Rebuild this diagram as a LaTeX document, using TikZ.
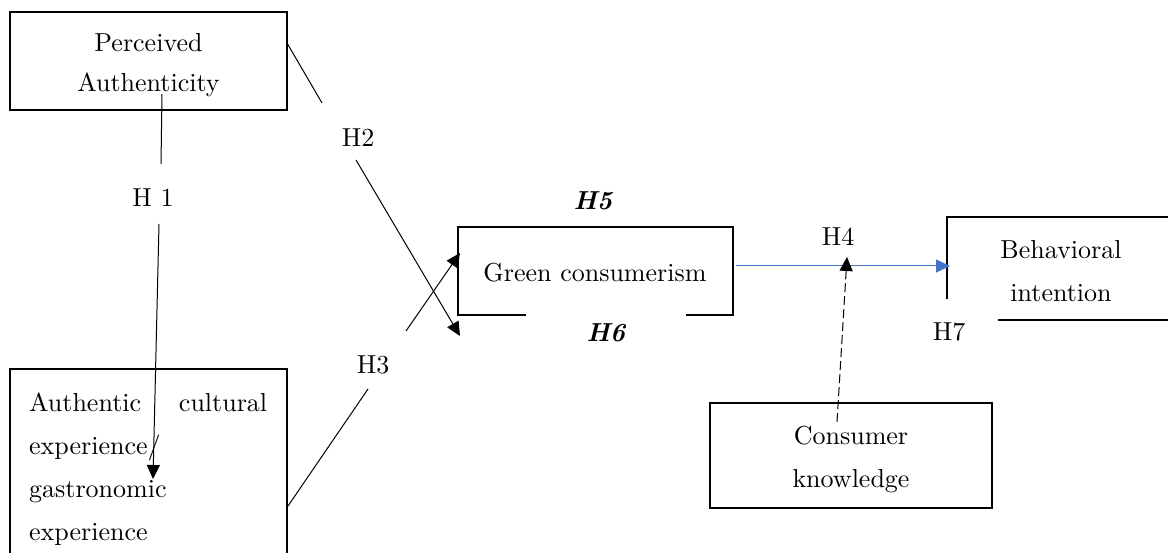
\documentclass[tikz,border=0pt]{standalone}
\usepackage{fontspec}
\setmainfont{lmroman10-regular.otf}[BoldItalicFont=lmroman10-bolditalic.otf, BoldFont=lmroman10-bold.otf, ItalicFont=lmroman10-italic.otf]
\usetikzlibrary{arrows.meta}
\definecolor{arrowblue}{HTML}{4472C4}
\begin{document}
\begin{tikzpicture}[x=1pt,y=-1pt,
  every node/.style={font=\fontsize{26}{43}\selectfont, inner sep=0pt},
  boxline/.style={line width=1.6pt},
  conn/.style={line width=1pt},
  tip/.style={-{Triangle[length=14pt,width=13pt]}},
  hbold/.style={font=\fontsize{26}{43}\selectfont\bfseries\itshape}]
\useasboundingbox (0,0) rectangle (1168,553);
% Boxes
\node[draw, boxline, minimum width=277pt, minimum height=98pt] (pa) at (148.5,61) {};
\node[align=center, font=\fontsize{26}{40}\selectfont] (pat) at (148.5,65) {Perceived\\Authenticity};
\node[draw, boxline, minimum width=282pt, minimum height=105pt] (ck) at (851,455.5) {};
\node[align=center] (ckt) at (851,459.5) {Consumer\\knowledge};
\node (gc) at (595,273) {Green consumerism};
\node[align=center] (bi) at (1061,271) {Behavioral\\intention};
\node[text width=238pt, align=left, anchor=north west] (ac) at (29,393) {Authentic\hfill cultural\\experience/\\gastronomic\\experience};
% partial box outlines
\draw[boxline] (10,553) -- (10,369) -- (287,369) -- (287,553);
\draw[boxline] (526,315) -- (458,315) -- (458,227) -- (733,227) -- (733,315) -- (686,315);
\draw[boxline] (947,299) -- (947,217) -- (1168,217);
\draw[boxline] (998,320) -- (1168,320);
% labels
\node (h1) at (153,198) {H 1};
\node (h2) at (358,138) {H2};
\node (h3) at (373,365) {H3};
\node (h4) at (838,237) {H4};
\node[hbold] (h5) at (593,201) {H5};
\node[hbold] (h6) at (606,333) {H6};
\node (h7) at (949,332) {H7};
% coordinates
\coordinate (h1a) at (162,94);
\coordinate (h1b) at (161,164);
\coordinate (h1c) at (159,224);
\coordinate (h1t) at (153,479);
\coordinate (h2a) at (287,43);
\coordinate (h2b) at (322,103);
\coordinate (h2c) at (356,160);
\coordinate (h2t) at (460,336);
\coordinate (h3a) at (288,506);
\coordinate (h3b) at (368,389);
\coordinate (h3c) at (406,331);
\coordinate (h3t) at (460,253);
\coordinate (gcr) at (736,266);
\coordinate (bil) at (950,266);
\coordinate (cka) at (837,422);
\coordinate (ckp) at (847,257);
% connectors
\draw[conn] (h1a) -- (h1b);
\draw[conn, tip] (h1c) -- (h1t);
\draw[conn] (h2a) -- (h2b);
\draw[conn, tip] (h2c) -- (h2t);
\draw[conn] (h3a) -- (h3b);
\draw[conn, tip] (h3c) -- (h3t);
\draw[conn, arrowblue, tip] (gcr) -- (bil);
\draw[conn, dashed, dash pattern=on 9pt off 4pt, tip] (cka) -- (ckp);
\end{tikzpicture}
\end{document}
